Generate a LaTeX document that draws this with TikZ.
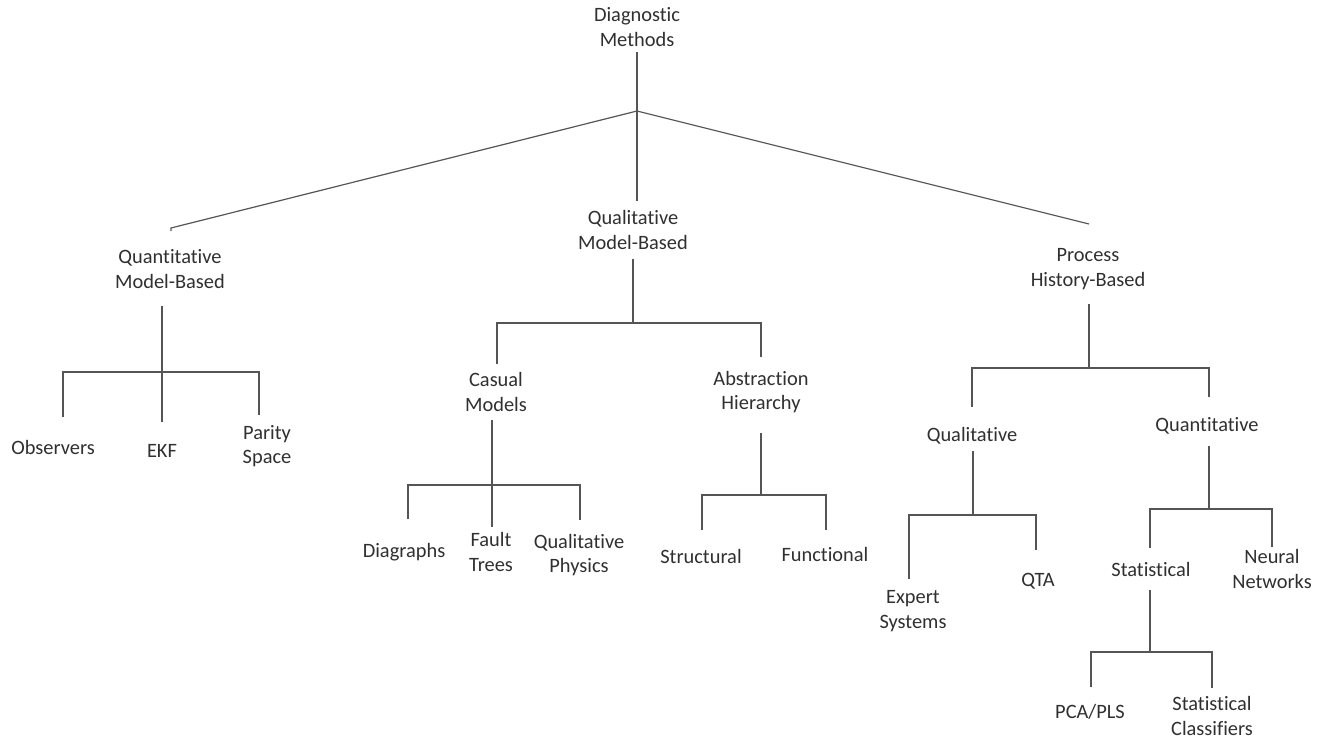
\documentclass[tikz,border=0pt]{standalone}
\usepackage{fontspec}
\setmainfont{Carlito}[Ligatures=NoCommon]
\definecolor{txtgray}{HTML}{303030}
\definecolor{linegray}{HTML}{555555}

\begin{document}
\begin{tikzpicture}[x=0.5pt,y=-0.5pt,
  lbl/.style={align=center,inner sep=0pt,outer sep=#1,text=txtgray,
    font=\fontsize{10.2}{12.25}\selectfont},
  lbl/.default=4pt,
  tree/.style={draw=linegray,line width=0.6pt},
  thk/.style={draw=linegray,line width=1.1pt}]
  \fill[white] (0,0) rectangle (1328,738);

  % top level
  \node[lbl=3pt] (root) at (637,27) {Diagnostic\\Methods};
  \node[lbl=9pt] (qnm) at (170,269) {Quantitative\\Model-Based};
  \node[lbl=4.75pt] (qlm) at (633,230) {Qualitative\\Model-Based};
  \node[lbl=7.5pt] (phb) at (1088,269) {Process\\History-Based};

  % quantitative model-based
  \node[lbl=11.5pt] (obs) at (53,447) {Observers};
  \node[lbl=11pt] (ekf) at (162,451) {EKF};
  \node[lbl=5pt] (par) at (267,446) {Parity\\Space};

  % qualitative model-based
  \node[lbl=4.25pt] (cas) at (496,392) {Casual\\Models};
  \node[lbl=7pt] (abh) at (761,392) {Abstraction\\Hierarchy};
  \node[lbl=12pt] (dia) at (404,552) {Diagraphs};
  \node[lbl=3pt] (flt) at (491,552) {Fault\\Trees};
  \node[lbl=7pt] (qph) at (579,555) {Qualitative\\Physics};
  \node[lbl=9.5pt] (str) at (701,556) {Structural};
  \node[lbl=8.5pt] (fun) at (825,554) {Functional};

  % process history-based
  \node[lbl=3.5pt] (qal) at (972,436) {Qualitative};
  \node[lbl=6pt] (qnt) at (1207,426) {Quantitative};
  \node[lbl=6pt] (exs) at (913,611) {Expert\\Systems};
  \node[lbl=11.5pt] (qta) at (1038,581) {QTA};
  \node[lbl=7pt] (sta) at (1151,569) {Statistical};
  \node[lbl=1.5pt] (nnw) at (1272,569) {Neural\\Networks};
  \node[lbl=8.5pt] (pca) at (1090,712) {PCA/PLS};
  \node[lbl=4.5pt] (scl) at (1212,716) {Statistical\\Classifiers};

  % root branches
  \coordinate (apex) at (637,111);
  \coordinate (qnmtop) at (171,228);
  \coordinate (phbtop) at (1089,224);
  \draw[tree] (root) -- (root.south |- qlm.north);
  \draw[tree] (qnmtop) ++(0,3) -- (qnmtop) -- (apex) -- (phbtop);

  % bar under quantitative model-based
  \coordinate (b1) at (162,372);
  \coordinate (b1l) at (63,372);
  \coordinate (b1r) at (259,372);
  \draw[tree] (b1 |- qnm.south) -- (b1 |- ekf.north);
  \draw[tree] (b1l |- obs.north) -- (b1l) -- (b1r) -- (b1r |- par.north);

  % bar under qualitative model-based
  \coordinate (b2) at (633,323);
  \coordinate (b2l) at (497,323);
  \coordinate (b2r) at (761,323);
  \draw[tree] (qlm) -- (b2);
  \draw[tree] (b2l |- cas.north) -- (b2l) -- (b2r) -- (b2r |- abh.north);

  % casual models
  \coordinate (b3) at (492,485);
  \coordinate (b3l) at (408,485);
  \coordinate (b3r) at (580,485);
  \draw[tree] (b3 |- cas.south) -- (b3 |- flt.north);
  \draw[tree] (b3l |- dia.north) -- (b3l) -- (b3r) -- (b3r |- qph.north);

  % abstraction hierarchy
  \coordinate (b4) at (761,495);
  \coordinate (b4l) at (702,495);
  \coordinate (b4r) at (826,495);
  \draw[tree,shorten <=3pt] (abh) -- (b4);
  \draw[tree] (b4l |- str.north) -- (b4l) -- (b4r) -- (b4r |- fun.north);

  % bar under process history-based
  \coordinate (b5) at (1089,368);
  \coordinate (b5l) at (972,368);
  \coordinate (b5r) at (1209,368);
  \draw[tree] (b5 |- phb.south) -- (b5);
  \draw[thk] (b5) -- ++(0,-31);
  \draw[tree,shorten <=7pt,shorten >=4.5pt] (b5l |- qal.north) -- (b5l) -- (b5r) -- (b5r |- qnt.north);

  % qualitative
  \coordinate (b6) at (973,515);
  \coordinate (b6l) at (909,515);
  \coordinate (b6r) at (1036,515);
  \draw[tree] (b6 |- qal.south) -- (b6);
  \draw[thk] (b6) -- ++(0,-29);
  \draw[tree] (b6l |- exs.north) -- (b6l) -- (b6r) -- (b6r |- qta.north);

  % quantitative
  \coordinate (b7) at (1209,509);
  \coordinate (b7l) at (1150,509);
  \coordinate (b7r) at (1272,509);
  \draw[tree] (b7 |- qnt.south) -- (b7);
  \draw[tree] (b7l |- sta.north) -- (b7l) -- (b7r) -- (b7r |- nnw.north);

  % statistical
  \coordinate (b8) at (1150,652);
  \coordinate (b8l) at (1091,652);
  \coordinate (b8r) at (1212,652);
  \draw[tree] (b8 |- sta.south) -- (b8);
  \draw[thk] (b8) -- ++(0,-27);
  \draw[tree] (b8l |- pca.north) -- (b8l) -- (b8r) -- (b8r |- scl.north);
\end{tikzpicture}
\end{document}
